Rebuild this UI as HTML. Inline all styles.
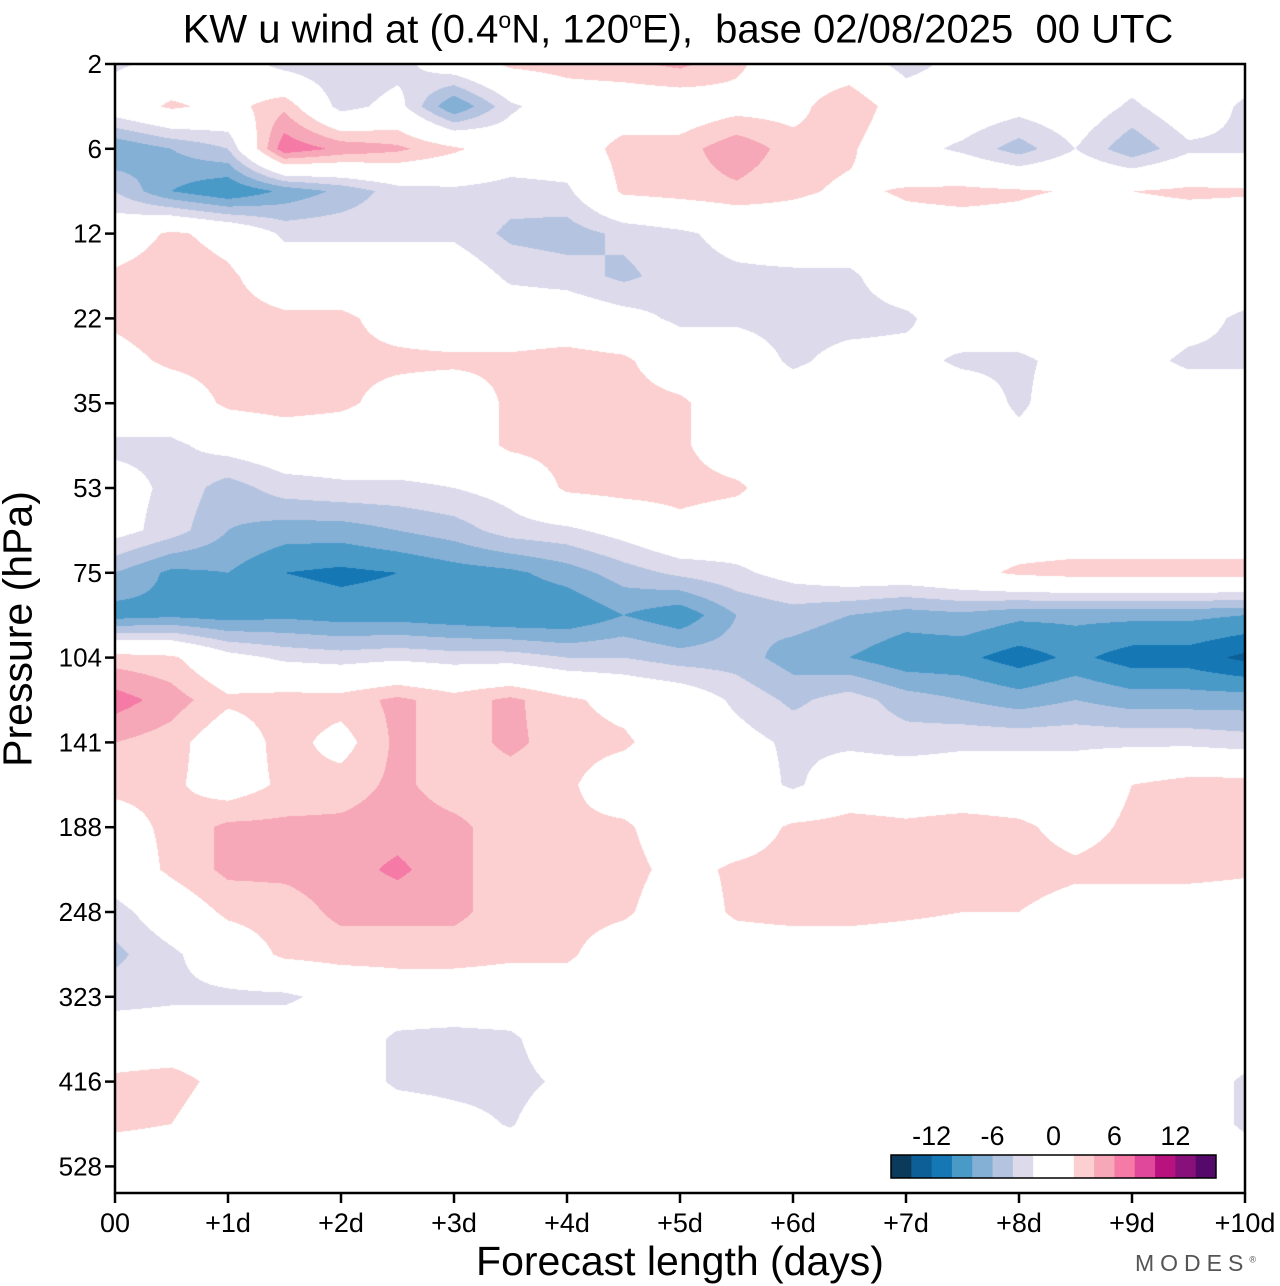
<!DOCTYPE html>
<html><head><meta charset="utf-8"><style>
body{margin:0;background:#fff;width:1280px;height:1286px;overflow:hidden;position:relative;font-family:"Liberation Sans",sans-serif;color:#000}
.t{position:absolute;white-space:nowrap}
</style></head><body>
<div class="t" style="left:0;width:1356px;text-align:center;top:-3px;font-size:40px;line-height:46px">KW u wind at (0.4<sup style="font-size:23px">o</sup>N, 120<sup style="font-size:23px">o</sup>E),&nbsp; base 02/08/2025&nbsp; 00 UTC</div>
<canvas id="cv" width="1130" height="1129" style="position:absolute;left:115px;top:64px"></canvas>
<svg id="ax" width="1280" height="1286" style="position:absolute;left:0;top:0"></svg>
<div class="t" style="left:18px;top:629px;font-size:41px;transform:translate(-50%,-50%) rotate(-90deg);transform-origin:center">Pressure (hPa)</div>
<div class="t" style="left:680px;top:1238px;font-size:41px;transform:translateX(-50%)">Forecast length (days)</div>
<div class="t" style="left:1135px;top:1250px;font-size:23px;letter-spacing:6px;color:#555">MODES<sup style="font-size:9px;letter-spacing:0">®</sup></div>
<script>
const days=[0,0.5,1,1.5,2,2.5,3,3.5,4,4.5,5,5.5,6,6.5,7,7.5,8,8.5,9,9.5,10];
const yTickLabels=["2","6","12","22","35","53","75","104","141","188","248","323","416","528"];
const xTickLabels=["00","+1d","+2d","+3d","+4d","+5d","+6d","+7d","+8d","+9d","+10d"];
const levels=[-14,-12,-10,-8,-6,-4,-2,0,2,4,6,8,10,12,14];
const cbLabels=[-12,-6,0,6,12];
const colors=["#0b3a5a","#0d5f97","#1578b5","#4a9ac8","#85b0d6","#b4c4e0","#dcdaeb","#ffffff","#ffffff","#fcd0d0","#f7a8b8","#f57aa6","#e0489b","#b8127f","#87107a","#55096b"];
// rows at half-tick pressure index (0 = 2 hPa, 2 = 6 hPa ...)
const u=[
[-2.5,-1,0,-3,-4,-3,0,2.5,3,3.5,4.5,2.5,0,0,-3,-1,0,0,0,0,0],
[0,2.5,1,3.5,-3,-1,-8,-2.5,0,0,0,1,1,4,0,0,-1,0,-2.5,0,-2.5],
[-8,-6,-4,7.5,5.5,4.5,2.5,0,0,3,3,5.5,3,2.5,-1,-2.5,-5,-2,-5.5,-2.5,-2.5],
[-4,-8,-10,-7.5,-5.5,-3,-2.5,-3,-2.5,2.5,3,3.5,2.5,1.5,2.3,2.6,2.3,1.8,2.0,2.5,2.3],
[0,2.5,1,-2.5,-2.5,-2.5,-2.5,-4.5,-5,-3.5,-2.5,-1,0,0,1,1,1,0,0,0,0],
[2.5,3.5,2.5,0,0,0,0,-2.5,-3,-4.5,-3,-2.5,-2.5,-2.5,0,0,0,0,0,0,0],
[2.5,3.5,3,2.5,2.5,1,0,0,0,-1,-2.5,-2.5,-3,-3,-2.5,0,0,0,0,-1,-2.5],
[1,2.5,3,4,2.5,2.5,2.5,2.5,3,2.5,0,0,-2.5,-1,-1,-2.5,-2.5,-1,-1,-2.5,-2.5],
[0,0,2.5,3,2.5,1,0,2.5,3,3,2.5,0,0,0,0,0,-2.5,0,0,0,0],
[-2.5,-2.5,-1,0,0,0,0,2.5,3,3,2.5,0,0,0,0,0,-1,0,0,0,0],
[-1,-2.5,-5,-3,-2.5,-2.5,-2,-1,2.5,3,3,2.5,0,0,0,0,0,0,0,0,0],
[-1,-3,-6,-7,-7,-6,-5,-3,-2.5,-1,1,0,0,0,0,0,0,0,0,0,0],
[-6,-8.5,-8,-10,-10.5,-10,-9,-8.5,-7,-5,-3.5,-2.5,-1,0,0,1,2.5,3,3,3,3],
[-9,-8.5,-9,-8.5,-9,-9,-9.5,-10,-10,-8,-9.5,-6,-5,-6,-7,-6.5,-7.5,-7.5,-7.5,-7.5,-8],
[3,2.5,-1,-2.5,-3,-2.5,-3,-3,-4,-4,-5,-5,-7,-8,-9.5,-9.5,-11,-9.5,-11,-11,-12.5],
[7,5,2.5,3,3,4.5,3,4.5,2.5,1,0,-2.5,-4.5,-3,-5,-6,-7,-6,-7,-7,-7],
[4,3,0,3,1,4.5,3,4.5,3,2.5,0,-1,-2.5,-2.5,-3,-2.5,-2.5,-2.5,-2.5,-2.5,-3],
[2.5,2.5,0.5,2.5,3,4.5,3,3,2.5,0,-1,0,-2.5,0,0,0,0,0,2,3,3],
[1,2.5,4.5,4.5,4.5,5,4.5,3,2.5,2.5,0,0,2.5,3,2.5,3,2.5,1,2.5,3,3],
[0,2.5,4.5,4.5,5,6.5,4.5,3,2.5,3,1,2.5,3,3,3,3,3,2.5,3,3,2.5],
[-3,0,2.5,3,4.5,4.5,4.5,3,3,2.5,0,2.5,3,3,2.5,2,2,1,0,0,0],
[-4.5,-2.5,0,2.5,3,3,3,2.5,2.5,0,0,0,0,0,0,0,0,0,0,0,0],
[-3,-2.5,-2.5,-2.5,-1,0,0,0,0,0,0,0,0,0,0,0,0,0,0,0,0],
[0,0,0,0,0,-2.5,-2.8,-2.5,0,0,0,0,0,0,0,0,0,0,0,0,0],
[2.5,3,1,0,0,-2.5,-2.8,-2.8,-1.5,0,0,0,0,0,0,0,0,0,0,0,-2.5],
[2.5,2,0,1.5,0,0,-1,-2.2,0,0,0,0,0,0,0,0,0,0,0,0,-2.5],
[0,0,0,0,0,0,0,0,0,0,0,0,0,0,0,0,0,0,0,0,0],
[0,0,0,0,0,0,0,0,0,0,0,0,0,0,0,0,0,0,0,0,0]
];
const X0=115,X1=1245,Y0=64,Y1=1193,ROW=42.4;
const xPx=d=>X0+(d/10)*(X1-X0);
const yPx=r=>Y0+r*ROW;
function band(v){let i=0;while(i<levels.length&&v>=levels[i])i++;return i;}
function hex(c){return[parseInt(c.slice(1,3),16),parseInt(c.slice(3,5),16),parseInt(c.slice(5,7),16)];}
const rgb=colors.map(hex);
const cv=document.getElementById('cv'),ctx=cv.getContext('2d');
const W=cv.width,H=cv.height,img=ctx.createImageData(W,H);
const nr=u.length,nc=days.length;
for(let py=0;py<H;py++){
  const r=Math.min((py+0.5)/ROW,nr-1.001);const r0=Math.floor(r),fr=r-r0;
  for(let px=0;px<W;px++){
    const d=(px+0.5)/(X1-X0)*10;
    let c0=0;while(c0<nc-2&&days[c0+1]<=d)c0++;
    const fc=Math.min(1,Math.max(0,(d-days[c0])/(days[c0+1]-days[c0])));
    const v=(u[r0][c0]*(1-fc)+u[r0][c0+1]*fc)*(1-fr)+(u[r0+1][c0]*(1-fc)+u[r0+1][c0+1]*fc)*fr;
    const col=rgb[band(v)];const k=(py*W+px)*4;
    img.data[k]=col[0];img.data[k+1]=col[1];img.data[k+2]=col[2];img.data[k+3]=255;
  }
}
ctx.putImageData(img,0,0);
const NS="http://www.w3.org/2000/svg",svg=document.getElementById('ax');
function mk(tag,attrs,txt){const e=document.createElementNS(NS,tag);for(const k in attrs)e.setAttribute(k,attrs[k]);if(txt!==undefined)e.textContent=txt;svg.appendChild(e);return e;}
let e=mk('rect',{x:X0,y:Y0,width:X1-X0,height:Y1-Y0,fill:'none',stroke:'#000','stroke-width':2.5});


yTickLabels.forEach((lab,i)=>{
  const y=yPx(i*2);
  let t=mk('line',{x1:X0-10,x2:X0,y1:y,y2:y,stroke:'#000','stroke-width':2.5});
  
  
  let l=mk('text',{x:X0-13,y:y+9,'text-anchor':'end','font-size':26,'font-family':'Liberation Sans'},lab);
  
  
});
xTickLabels.forEach((lab,i)=>{
  const x=xPx(i);
  let t=mk('line',{x1:x,x2:x,y1:Y1,y2:Y1+10,stroke:'#000','stroke-width':2.5});
  
  
  let l=mk('text',{x:x,y:1232,'text-anchor':'middle','font-size':27,'font-family':'Liberation Sans'},lab);
  
  
});
const CB0=891,CBW=325/16;
colors.forEach((c,i)=>{
  let r=mk('rect',{x:CB0+i*CBW,y:1155,width:CBW+0.5,height:23,fill:c});
  
  
});
e=mk('rect',{x:CB0,y:1155,width:325,height:23,fill:'none',stroke:'#000','stroke-width':1.5});


cbLabels.forEach(v=>{
  const x=CB0+(v+16)/2*CBW;
  let l=mk('text',{x:x,y:1145,'text-anchor':'middle','font-size':27,'font-family':'Liberation Sans'},String(v));
  
  
});
</script>
</body></html>
